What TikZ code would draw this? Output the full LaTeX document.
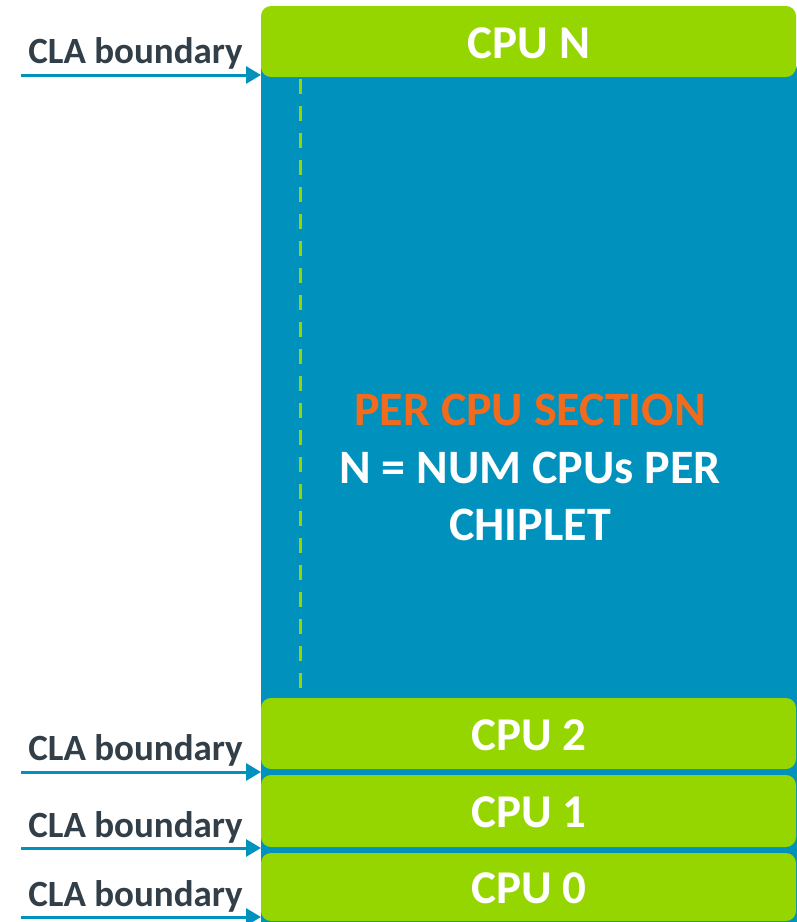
\documentclass[tikz,border=0pt]{standalone}
\usepackage{fontspec}
\setmainfont{Carlito}
\usetikzlibrary{arrows.meta}
\definecolor{cpugreen}{RGB}{150,214,0}
\definecolor{secblue}{RGB}{0,145,189}
\definecolor{labgray}{RGB}{51,63,72}
\definecolor{secorange}{RGB}{242,107,29}
\tikzset{
  cpubox/.style={fill=cpugreen, rounded corners=10pt, draw=none},
  cputext/.style={text=white, font=\fontsize{47}{50}\selectfont\bfseries, inner sep=0pt},
  clalabel/.style={font=\fontsize{37}{40}\selectfont\bfseries, text=labgray, anchor=base, inner sep=0pt},
  claarrow/.style={draw=secblue, line width=3pt, -{Triangle[length=15pt,width=17pt]}},
  sectext/.style={font=\fontsize{48}{57}\selectfont\bfseries, align=center, inner sep=0pt}
}
\begin{document}
\begin{tikzpicture}[x=1pt,y=-1pt]
\useasboundingbox (0,0) rectangle (797,922);
% blue section
\fill[secblue, rounded corners=10pt] (261,60) rectangle (797,935);
% dashed line
\coordinate (dtop) at (300,79);
\coordinate (dbot) at (300,697);
\draw[cpugreen, line width=3pt, dash pattern=on 15pt off 12pt] (dtop) -- (dbot);
% CPU boxes
\path[cpubox] (261,6) rectangle (796,77);
\node[cputext] (cpuN) at (529,43) {CPU N};
\path[cpubox] (261,698) rectangle (796,769);
\node[cputext] (cpu2) at (529,735) {CPU 2};
\path[cpubox] (261,775) rectangle (796,847);
\node[cputext] (cpu1) at (529,812) {CPU 1};
\path[cpubox] (261,853) rectangle (796,921);
\node[cputext] (cpu0) at (529,888) {CPU 0};
% section text
\node[sectext, text=secorange] (sec) at (530,410) {PER CPU SECTION};
\node[sectext, text=white] (num) at (530,496) {N = NUM CPUs PER\\CHIPLET};
% labels and arrows
\node[clalabel] (lN) at (135.5,63) {CLA boundary};
\node[clalabel] (l2) at (135.5,760) {CLA boundary};
\node[clalabel] (l1) at (135.5,837) {CLA boundary};
\node[clalabel] (l0) at (135.5,906) {CLA boundary};
\coordinate (sN) at (21,75);  \coordinate (tN) at (261,75);
\coordinate (s2) at (21,772); \coordinate (t2) at (261,772);
\coordinate (s1) at (21,848); \coordinate (t1) at (261,848);
\coordinate (s0) at (21,917); \coordinate (t0) at (261,917);
\draw[claarrow] (sN) -- (tN);
\draw[claarrow] (s2) -- (t2);
\draw[claarrow] (s1) -- (t1);
\draw[claarrow] (s0) -- (t0);
\end{tikzpicture}
\end{document}
